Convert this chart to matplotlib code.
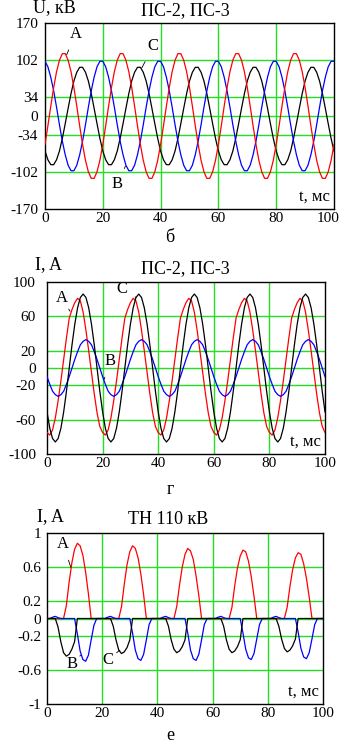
import matplotlib
matplotlib.use("Agg")
import matplotlib.pyplot as plt
from matplotlib.transforms import ScaledTranslation
import numpy as np

plt.rcParams['font.family'] = ['Liberation Serif', 'DejaVu Serif']
plt.rcParams['axes.unicode_minus'] = False

# time axis, ms (1 ms steps)
t_ms = np.arange(0, 101)

# ---- panel 1 (б): voltages, kV ----
u_a = [-52, -18, 18, 52, 81, 102, 114, 114, 102, 81, 52, 18, -18, -52, -81, -102, -114, -114, -102, -81,
       -52, -18, 18, 52, 81, 102, 114, 114, 102, 81, 52, 18, -18, -52, -81, -102, -114, -114, -102, -81,
       -52, -18, 18, 52, 81, 102, 114, 114, 102, 81, 52, 18, -18, -52, -81, -102, -114, -114, -102, -81,
       -52, -18, 18, 52, 81, 102, 114, 114, 102, 81, 52, 18, -18, -52, -81, -102, -114, -114, -102, -81,
       -52, -18, 18, 52, 81, 102, 114, 114, 102, 81, 52, 18, -18, -52, -81, -102, -114, -114, -102, -81,
       -52]
u_b = [100, 90, 71, 46, 16, -16, -46, -71, -90, -100, -100, -90, -71, -46, -16, 16, 46, 71, 90, 100,
       100, 90, 71, 46, 16, -16, -46, -71, -90, -100, -100, -90, -71, -46, -16, 16, 46, 71, 90, 100,
       100, 90, 71, 46, 16, -16, -46, -71, -90, -100, -100, -90, -71, -46, -16, 16, 46, 71, 90, 100,
       100, 90, 71, 46, 16, -16, -46, -71, -90, -100, -100, -90, -71, -46, -16, 16, 46, 71, 90, 100,
       100, 90, 71, 46, 16, -16, -46, -71, -90, -100, -100, -90, -71, -46, -16, 16, 46, 71, 90, 100,
       100]
u_c = [-64, -80, -89, -89, -80, -64, -41, -14, 14, 41, 64, 80, 89, 89, 80, 64, 41, 14, -14, -41,
       -64, -80, -89, -89, -80, -64, -41, -14, 14, 41, 64, 80, 89, 89, 80, 64, 41, 14, -14, -41,
       -64, -80, -89, -89, -80, -64, -41, -14, 14, 41, 64, 80, 89, 89, 80, 64, 41, 14, -14, -41,
       -64, -80, -89, -89, -80, -64, -41, -14, 14, 41, 64, 80, 89, 89, 80, 64, 41, 14, -14, -41,
       -64, -80, -89, -89, -80, -64, -41, -14, 14, 41, 64, 80, 89, 89, 80, 64, 41, 14, -14, -41,
       -64]

# ---- panel 2 (г): currents, A ----
i2_a = [-75, -78, -72, -58, -38, -15, 10, 35, 58, 68, 76, 81, 78, 65, 44, 20, -5, -30, -52, -68,
        -75, -78, -72, -58, -38, -15, 10, 35, 58, 68, 76, 81, 78, 65, 44, 20, -5, -30, -52, -68,
        -75, -78, -72, -58, -38, -15, 10, 35, 58, 68, 76, 81, 78, 65, 44, 20, -5, -30, -52, -68,
        -75, -78, -72, -58, -38, -15, 10, 35, 58, 68, 76, 81, 78, 65, 44, 20, -5, -30, -52, -68,
        -75, -78, -72, -58, -38, -15, 10, 35, 58, 68, 76, 81, 78, 65, 44, 20, -5, -30, -52, -68,
        -75]
i2_b = [-10, -19, -27, -31, -33, -31, -27, -19, -10, 0, 10, 19, 27, 31, 33, 31, 27, 19, 10, 0,
        -10, -19, -27, -31, -33, -31, -27, -19, -10, 0, 10, 19, 27, 31, 33, 31, 27, 19, 10, 0,
        -10, -19, -27, -31, -33, -31, -27, -19, -10, 0, 10, 19, 27, 31, 33, 31, 27, 19, 10, 0,
        -10, -19, -27, -31, -33, -31, -27, -19, -10, 0, 10, 19, 27, 31, 33, 31, 27, 19, 10, 0,
        -10, -19, -27, -31, -33, -31, -27, -19, -10, 0, 10, 19, 27, 31, 33, 31, 27, 19, 10, 0,
        -10]
i2_c = [-51, -70, -82, -86, -82, -70, -51, -27, 0, 27, 51, 70, 82, 86, 82, 70, 51, 27, 0, -27,
        -51, -70, -82, -86, -82, -70, -51, -27, 0, 27, 51, 70, 82, 86, 82, 70, 51, 27, 0, -27,
        -51, -70, -82, -86, -82, -70, -51, -27, 0, 27, 51, 70, 82, 86, 82, 70, 51, 27, 0, -27,
        -51, -70, -82, -86, -82, -70, -51, -27, 0, 27, 51, 70, 82, 86, 82, 70, 51, 27, 0, -27,
        -51, -70, -82, -86, -82, -70, -51, -27, 0, 27, 51, 70, 82, 86, 82, 70, 51, 27, 0, -27,
        -51]

# ---- panel 3 (е): ТН 110 кВ currents, A ----
i3_a = [0, 0, 0, 0, 0, 0, 0, .15, .42, .65, .81, .88, .85, .74, .54, .29, 0, 0, 0, 0,
        0, 0, 0, 0, 0, 0, 0, .14, .40, .63, .78, .85, .82, .71, .52, .28, 0, 0, 0, 0,
        0, 0, 0, 0, 0, 0, 0, .14, .39, .60, .75, .82, .79, .69, .50, .27, 0, 0, 0, 0,
        0, 0, 0, 0, 0, 0, 0, .13, .38, .59, .73, .80, .78, .67, .49, .26, 0, 0, 0, 0,
        0, 0, 0, 0, 0, 0, 0, .13, .37, .57, .71, .77, .75, .64, .47, .25, 0, 0, 0, 0,
        0]
i3_b = [0, 0, .015, .025, .01, 0, 0, 0, 0, 0, 0, -.18, -.38, -.48, -.50, -.43, -.25, -.08, 0, 0,
        0, 0, .015, .025, .01, 0, 0, 0, 0, 0, 0, -.17, -.37, -.47, -.49, -.42, -.25, -.07, 0, 0,
        0, 0, .015, .025, .01, 0, 0, 0, 0, 0, 0, -.17, -.37, -.47, -.49, -.42, -.25, -.07, 0, 0,
        0, 0, .015, .025, .01, 0, 0, 0, 0, 0, 0, -.17, -.36, -.46, -.48, -.41, -.24, -.07, 0, 0,
        0, 0, .015, .025, .01, 0, 0, 0, 0, 0, 0, -.16, -.35, -.45, -.47, -.40, -.24, -.07, 0, 0,
        0]
i3_c = [0, 0, 0, 0, -.10, -.27, -.40, -.44, -.42, -.36, -.27, 0, 0, 0, 0, 0, 0, 0, 0, 0,
        0, 0, 0, 0, -.09, -.25, -.37, -.41, -.39, -.34, -.25, 0, 0, 0, 0, 0, 0, 0, 0, 0,
        0, 0, 0, 0, -.09, -.25, -.36, -.40, -.38, -.33, -.25, 0, 0, 0, 0, 0, 0, 0, 0, 0,
        0, 0, 0, 0, -.09, -.25, -.36, -.40, -.38, -.33, -.25, 0, 0, 0, 0, 0, 0, 0, 0, 0,
        0, 0, 0, 0, -.09, -.24, -.35, -.39, -.37, -.32, -.24, 0, 0, 0, 0, 0, 0, 0, 0, 0,
        0]

x_ticks = [0, 20, 40, 60, 80, 100]
u_ticks = [-170, -102, -34, 0, 34, 102, 170]
i2_ticks = [-100, -60, -20, 0, 20, 60, 100]
i3_ticks = [-1, -0.6, -0.2, 0, 0.2, 0.6, 1]
i3_tick_labels = ['-1', '-0.6', '-0.2', '0', '0.2', '0.6', '1']

GREEN = '#22e022'
W, H = 341, 746


def px_axes(fig, left, top, right, bottom):
    return fig.add_axes([left / W, 1 - bottom / H, (right - left) / W, (bottom - top) / H])


def style_axes(ax, yticks, ylim, ylabels=None, ypad=4):
    ax.set_xlim(0, 100)
    ax.set_ylim(*ylim)
    ax.set_xticks(x_ticks)
    ax.set_yticks(yticks)
    if ylabels is not None:
        ax.set_yticklabels(ylabels)
    ax.tick_params(length=0, labelsize=11)
    ax.tick_params(axis='y', pad=ypad)
    ax.tick_params(axis='x', pad=2)
    for v in x_ticks[1:-1]:
        ax.axvline(v, color=GREEN, lw=1.0, zorder=1)
    for v in yticks[1:-1]:
        ax.axhline(v, color=GREEN, lw=1.0, zorder=1)
    for s in ax.spines.values():
        s.set_linewidth(1.0)
    ax.text(0.985, 0.025, 't, мс', transform=ax.transAxes, ha='right', va='bottom', fontsize=12)


def tag(ax, label, xy, xytext):
    ax.annotate(label, xy=xy, xytext=xytext, fontsize=12, ha='center', va='center',
                arrowprops=dict(arrowstyle='-', color='black', lw=0.6, shrinkA=4, shrinkB=0))


fig = plt.figure(figsize=(3.41, 7.46), dpi=100)

# panel 1
ax1 = px_axes(fig, 45, 23, 334, 209)
ax1.plot(t_ms, u_c, color='black', lw=0.9, zorder=3)
ax1.plot(t_ms, u_b, color='blue', lw=0.9, zorder=3)
ax1.plot(t_ms, u_a, color='red', lw=0.9, zorder=3)
style_axes(ax1, u_ticks, (-170, 170), ypad=5)
tag(ax1, 'A', (7.5, 112), (10.5, 150))
tag(ax1, 'C', (33.5, 88), (37.5, 128))
tag(ax1, 'B', (27.8, -92), (25, -125))
# keep the last x label inside the figure
last = ax1.get_xticklabels()[-1]
last.set_transform(last.get_transform() + ScaledTranslation(-4 / 72, 0, fig.dpi_scale_trans))
fig.text(33 / W, 1 - 8 / H, 'U, кВ', fontsize=13, ha='left', va='center')
fig.text(185 / W, 1 - 11 / H, 'ПС-2, ПС-3', fontsize=13, ha='center', va='center')
fig.text(170 / W, 1 - 238 / H, 'б', fontsize=13, ha='center', va='center')

# panel 2
ax2 = px_axes(fig, 47, 282, 325, 454)
ax2.plot(t_ms, i2_a, color='red', lw=0.9, zorder=3)
ax2.plot(t_ms, i2_b, color='blue', lw=0.9, zorder=3)
ax2.plot(t_ms, i2_c, color='black', lw=0.9, zorder=3)
style_axes(ax2, i2_ticks, (-100, 100), ypad=8)
tag(ax2, 'A', (8.3, 66), (5.3, 81))
tag(ax2, 'C', (32, 82), (27, 92))
tag(ax2, 'B', (20.6, -13), (22.7, 8))
fig.text(35 / W, 1 - 265 / H, 'I, A', fontsize=13, ha='left', va='center')
fig.text(185 / W, 1 - 269 / H, 'ПС-2, ПС-3', fontsize=13, ha='center', va='center')
fig.text(170 / W, 1 - 490 / H, 'г', fontsize=13, ha='center', va='center')

# panel 3
ax3 = px_axes(fig, 47, 533, 323, 704)
ax3.plot(t_ms, i3_a, color='red', lw=0.9, zorder=3)
ax3.plot(t_ms, i3_b, color='blue', lw=0.9, zorder=3)
ax3.plot(t_ms, i3_c, color='black', lw=0.9, zorder=3)
style_axes(ax3, i3_ticks, (-1, 1), i3_tick_labels, ypad=4)
tag(ax3, 'A', (8.6, 0.6), (5.9, 0.87))
tag(ax3, 'B', (12.2, -0.43), (8.9, -0.53))
tag(ax3, 'C', (26.4, -0.37), (22.2, -0.48))
fig.text(37 / W, 1 - 517 / H, 'I, A', fontsize=13, ha='left', va='center')
fig.text(168 / W, 1 - 519 / H, 'ТН 110 кВ', fontsize=13, ha='center', va='center')
fig.text(170 / W, 1 - 736 / H, 'е', fontsize=13, ha='center', va='center')

fig.savefig('out.png', dpi=100)
